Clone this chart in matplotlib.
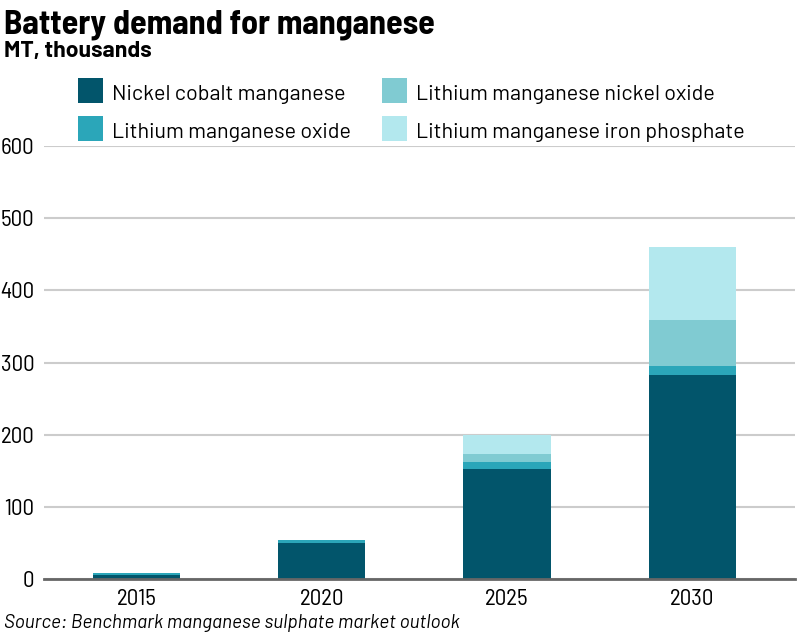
"""
Battery demand for manganese - stacked bars
"""
import matplotlib
matplotlib.use('Agg')
import matplotlib.pyplot as plt
from matplotlib.patches import Rectangle
import numpy as np

# data (MT, thousands)
years = ['2015', '2020', '2025', '2030']
ncm = [5, 50, 152, 283]      # Nickel cobalt manganese
lmo = [4, 4, 10, 12]         # Lithium manganese oxide
lmno = [0, 0, 11, 64]        # Lithium manganese nickel oxide
lmfp = [0, 0, 27, 101]       # Lithium manganese iron phosphate

series = [
    ('Nickel cobalt manganese', ncm, '#02556b'),
    ('Lithium manganese oxide', lmo, '#2ba6b9'),
    ('Lithium manganese nickel oxide', lmno, '#80cbd2'),
    ('Lithium manganese iron phosphate', lmfp, '#b3e8ee'),
]

SEMI = ['Barlow Semi Condensed', 'Roboto Condensed', 'DejaVu Sans']
WIDE = ['Barlow', 'Roboto', 'DejaVu Sans']
plt.rcParams['font.family'] = SEMI

W, H = 809, 641
fig = plt.figure(figsize=(W / 100, H / 100), dpi=100)


def fx(px):
    return px / W


def fy(px):
    return 1 - px / H


# axes placed in pixel coords
ax_l, ax_r, ax_t, ax_b = 44, 795, 146, 579
ax = fig.add_axes([fx(ax_l), fy(ax_b), (ax_r - ax_l) / W, (ax_b - ax_t) / H])

x = np.arange(len(years))
bottom = np.zeros(len(years))
for name, vals, color in series:
    ax.bar(x, vals, width=0.47, bottom=bottom, color=color, linewidth=0, zorder=3)
    bottom += np.array(vals)

ax.set_ylim(0, 600)
ax.set_xlim(-0.5, 3.555)
ax.set_yticks(range(0, 601, 100))
ax.set_xticks(x)
ax.set_xticklabels(years)

ax.grid(axis='y', color='#cccccc', linewidth=1.5, zorder=0)
for s in ['top', 'right', 'left']:
    ax.spines[s].set_visible(False)
ax.spines['bottom'].set_color('#666666')
ax.spines['bottom'].set_linewidth(2)
ax.spines['bottom'].set_zorder(4)
ax.tick_params(axis='both', length=0, labelsize=16.5, colors='black')
ax.tick_params(axis='y', pad=7)
ax.tick_params(axis='x', pad=7)

# titles
fig.text(fx(4), fy(33), 'Battery demand for manganese', fontsize=24.4,
         fontweight='bold', ha='left', va='baseline')
fig.text(fx(4), fy(57), 'MT, thousands', fontsize=16.5, family=WIDE,
         fontweight='bold', ha='left', va='baseline')

# legend, 2 columns, drawn by hand
col_x = [78, 382]
row_y = [78, 116]
for i, (name, _, color) in enumerate(series):
    cx, ry = col_x[i // 2], row_y[i % 2]
    fig.add_artist(Rectangle((fx(cx), fy(ry + 25)), 25 / W, 25 / H,
                             transform=fig.transFigure, facecolor=color,
                             edgecolor='none'))
    fig.text(fx(cx + 34), fy(ry + 22), name, fontsize=15.5, family=WIDE,
             ha='left', va='baseline')

fig.text(fx(4), fy(628), 'Source: Benchmark manganese sulphate market outlook',
         fontsize=13.7, family=WIDE, style='italic', ha='left', va='baseline')

fig.savefig('out.png', dpi=100)
plt.close(fig)
